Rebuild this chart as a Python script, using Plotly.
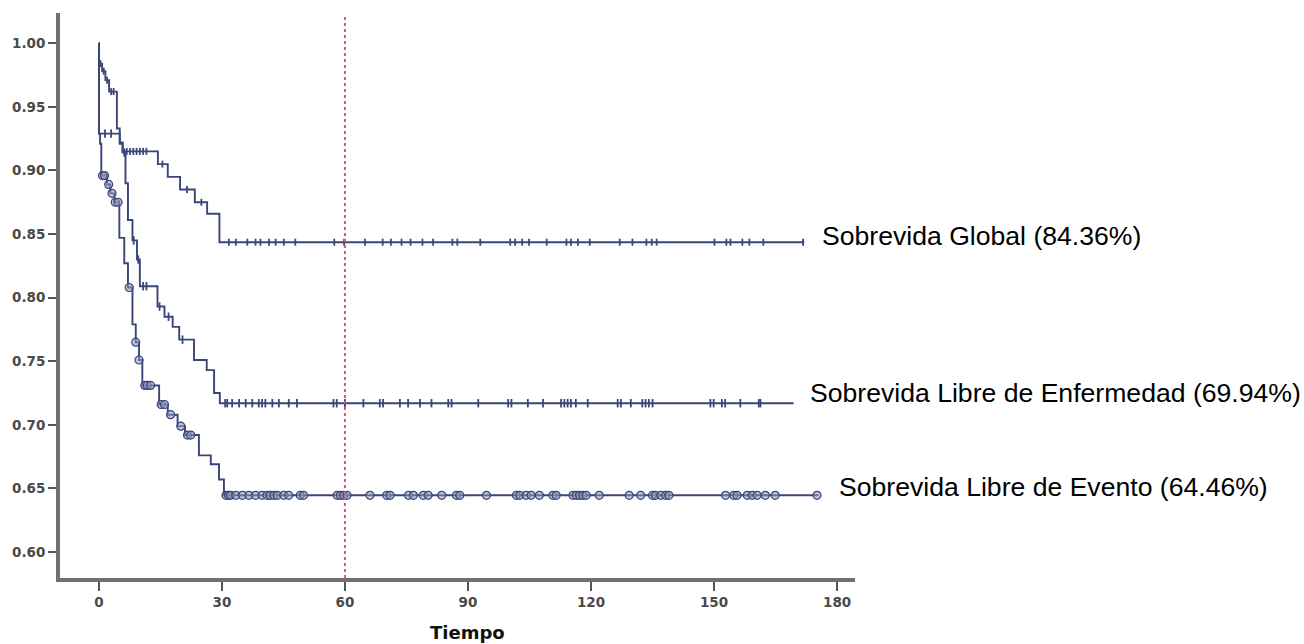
import numpy as np
import plotly.graph_objects as go

# ---------------- data ----------------
# Overall survival (Sobrevida Global): event times and survival after each step
os_time = [0, 0.05, 0.8, 1.6, 2.5, 4.4, 5.1, 5.8, 14.4, 16.8, 19.8, 23.4, 26.4, 29.4]
os_surv = [1.000, 0.984, 0.978, 0.971, 0.962, 0.933, 0.922, 0.915, 0.905, 0.895,
           0.885, 0.875, 0.866, 0.8436]
os_end = 172.0
os_cens = [0.4, 1.2, 2.0, 3.0, 3.6, 6.8, 7.6, 8.4, 9.2, 10.0, 10.8, 11.6, 15.5, 21.5,
           25.0, 31.7, 33.4, 36.2, 38.2, 39.4, 41.5, 43.1, 45.1, 47.9, 57.4, 59.8,
           64.9, 69.2, 71.2, 73.8, 76.0, 78.9, 81.5, 86.2, 87.4, 93.0, 100.3, 101.5,
           103.2, 104.9, 109.2, 114.0, 115.1, 116.8, 119.7, 127.0, 130.1, 133.5,
           134.8, 136.0, 150.1, 153.0, 154.0, 156.9, 158.6, 162.0, 171.7]

# Disease-free survival (Sobrevida Libre de Enfermedad)
dfs_time = [0, 0.05, 5.1, 5.8, 6.5, 7.1, 8.2, 9.3, 10.0, 14.3, 16.0, 18.0, 19.6,
            23.2, 26.3, 28.1, 29.5]
dfs_surv = [1.000, 0.929, 0.921, 0.914, 0.890, 0.861, 0.845, 0.830, 0.809, 0.793,
            0.785, 0.777, 0.767, 0.751, 0.743, 0.725, 0.717]
dfs_end = 169.4
dfs_cens = [1.5, 3.0, 6.2, 8.5, 9.6, 10.8, 11.6, 14.8, 17.0, 20.4, 30.8, 31.3, 32.5,
            34.2, 35.8, 37.4, 39.0, 39.8, 40.6, 42.3, 43.9, 46.3, 48.3, 57.2, 58.0,
            60.0, 64.5, 68.5, 69.3, 73.4, 75.4, 78.3, 81.1, 85.2, 86.0, 92.5, 99.8,
            100.6, 104.6, 108.3, 112.7, 113.5, 114.3, 115.1, 116.3, 119.2, 126.5,
            127.3, 129.7, 132.5, 133.3, 134.1, 135.0, 149.1, 149.9, 151.9, 152.7,
            156.4, 160.9, 161.3]

# Event-free survival (Sobrevida Libre de Evento)
efs_time = [0, 0.05, 0.3, 0.6, 2.0, 2.8, 3.8, 5.0, 6.2, 7.1, 8.2, 9.0, 9.8, 10.6,
            14.7, 16.8, 19.2, 21.0, 24.4, 27.3, 29.3, 30.5]
efs_surv = [1.000, 0.929, 0.921, 0.896, 0.889, 0.882, 0.875, 0.847, 0.827, 0.808,
            0.779, 0.765, 0.751, 0.731, 0.716, 0.708, 0.699, 0.692, 0.676, 0.669,
            0.657, 0.6446]
efs_end = 175.5
efs_cens = [0.9, 1.4, 2.4, 3.2, 4.0, 4.7, 7.4, 9.0, 9.8, 11.2, 11.8, 12.6, 15.2, 16.0,
            17.5, 20.0, 21.6, 22.4, 31.0, 31.6, 32.1, 33.4, 35.0, 36.6, 38.2, 39.8,
            41.0, 41.8, 42.7, 43.5, 45.1, 46.3, 49.1, 49.9, 58.1, 58.9, 59.7, 60.5,
            66.1, 70.2, 71.0, 75.5, 76.7, 79.1, 80.3, 83.6, 87.2, 88.0, 94.5, 101.8,
            102.6, 104.2, 105.4, 107.4, 110.7, 111.5, 115.6, 116.4, 117.2, 118.0,
            118.8, 122.0, 129.3, 132.1, 135.0, 135.7, 137.0, 138.2, 139.0, 152.8,
            154.8, 155.6, 158.1, 159.3, 160.5, 162.5, 164.9, 175.1]

series_labels = ["Sobrevida Global (84.36%)",
                 "Sobrevida Libre de Enfermedad (69.94%)",
                 "Sobrevida Libre de Evento (64.46%)"]
x_ticks = [0, 30, 60, 90, 120, 150, 180]
y_ticks = [0.60, 0.65, 0.70, 0.75, 0.80, 0.85, 0.90, 0.95, 1.00]
ref_time = 60
x_title = "Tiempo"

# ---------------- styling ----------------
LINE = "#3b4678"
fig = go.Figure()


def step_at(times, surv, t):
    idx = np.searchsorted(np.asarray(times), np.asarray(t), side="right") - 1
    return np.asarray(surv)[idx]


curves = [
    (os_time, os_surv, os_end, os_cens, "line-ns", 5),
    (dfs_time, dfs_surv, dfs_end, dfs_cens, "line-ns", 6),
    (efs_time, efs_surv, efs_end, efs_cens, "circle", 8),
]
for times, surv, end, cens, sym, msize in curves:
    fig.add_trace(go.Scatter(
        x=list(times) + [end], y=list(surv) + [surv[-1]],
        mode="lines", line=dict(color=LINE, width=1.9, shape="hv"),
        hoverinfo="skip", showlegend=False))
    cy = step_at(times, surv, cens)
    if sym == "circle":
        marker = dict(symbol="circle", size=msize, color="rgba(140,150,185,0.55)",
                      line=dict(color=LINE, width=1.2))
    else:
        marker = dict(symbol=sym, size=msize, color=LINE,
                      line=dict(color=LINE, width=1.8))
    fig.add_trace(go.Scatter(x=cens, y=cy, mode="markers", marker=marker,
                             hoverinfo="skip", showlegend=False))

# reference dotted line at 60
fig.add_shape(type="line", xref="x", yref="y", x0=ref_time, x1=ref_time,
              y0=0.5796, y1=1.0207, line=dict(color="#e8506e", width=2, dash="dot"),
              layer="above")

# series labels
label_pos = [(175.9, os_surv[-1], 6), (172.9, dfs_surv[-1], 10), (179.9, efs_surv[-1], 8)]
for (lx, ly, ys), txt in zip(label_pos, series_labels):
    fig.add_annotation(x=lx, y=ly, text=txt, showarrow=False, xanchor="left",
                       yanchor="middle", yshift=ys,
                       font=dict(family="Liberation Sans, Arial", size=26.6, color="#000"))

# x-axis title
fig.add_annotation(x=90, y=-0.097, xref="x", yref="paper", text=x_title,
                   showarrow=False, xanchor="center", yanchor="middle",
                   font=dict(family="DejaVu Sans", size=18, color="#111", weight="bold"))

tickfont = dict(family="DejaVu Sans", size=13.5, color="#4a4a4a", weight="bold")
fig.update_layout(
    width=1304, height=644,
    margin=dict(l=57, r=449, t=13, b=66),
    paper_bgcolor="white", plot_bgcolor="white",
    xaxis=dict(range=[-9.47, 184.36], tickvals=x_ticks,
               ticktext=[str(v) for v in x_ticks],
               showgrid=False, zeroline=False, showline=True, linecolor="#707070",
               linewidth=4, ticks="outside", ticklen=9, tickwidth=2,
               tickcolor="#555", tickfont=tickfont),
    yaxis=dict(range=[0.5796, 1.0238], tickvals=y_ticks,
               ticktext=[f"{v:.2f}" for v in y_ticks],
               showgrid=False, zeroline=False, showline=True, linecolor="#707070",
               linewidth=4, ticks="outside", ticklen=8, tickwidth=2,
               tickcolor="#555", tickfont=tickfont),
)

fig.write_html("out.html", config={"displayModeBar": False},
               post_script="document.body.style.margin='0';")
